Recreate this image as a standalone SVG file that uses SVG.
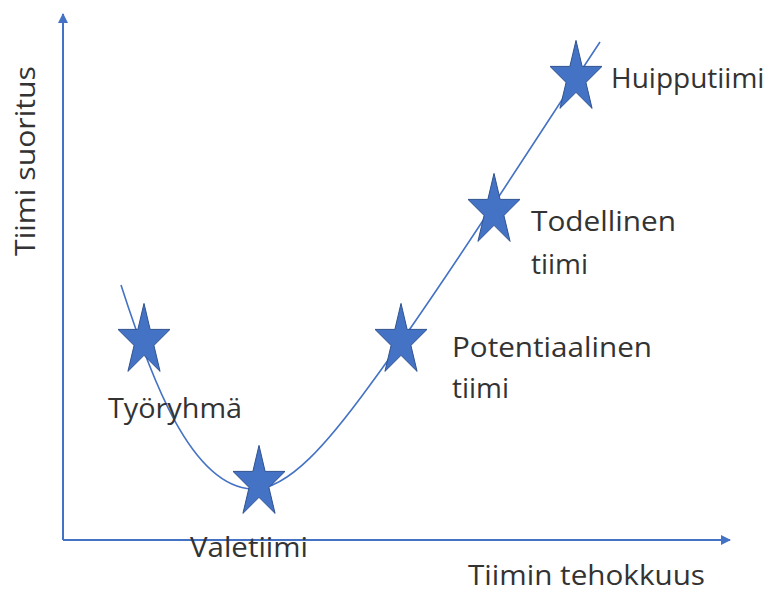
<svg xmlns="http://www.w3.org/2000/svg" width="778" height="594" viewBox="0 0 778 594">
<style>
.ax{stroke:#4472C4;stroke-width:2;fill:none}
.cv{stroke:#4472C4;stroke-width:1.6;fill:none}
.st{fill:#4472C4;stroke:#2F528F;stroke-width:1}
text{font-family:"Open Sans","Noto Sans",sans-serif;font-size:28px;fill:#333}
</style>
<defs>
<marker id="ah" viewBox="0 0 10 10" refX="9" refY="5" markerWidth="5" markerHeight="5" orient="auto-start-reverse" markerUnits="strokeWidth">
<path d="M0,0 L10,5 L0,10 Z" fill="#4472C4"/>
</marker>
<path id="star" d="M0,-37.6 L6.14,-11.6 L26,-11.6 L9.92,4.44 L16.08,30.4 L0,14.36 L-16.08,30.4 L-9.92,4.44 L-26,-11.6 L-6.14,-11.6 Z"/>
</defs>
<g id="axes">
<line class="ax" x1="63" y1="540" x2="63" y2="14" marker-end="url(#ah)"/>
<line class="ax" x1="63" y1="540" x2="730" y2="540" marker-end="url(#ah)"/>
<text x="35" y="256" transform="rotate(-90 35 256)" textLength="190" lengthAdjust="spacingAndGlyphs">Tiimi suoritus</text>
<text x="468" y="585" font-size="27" textLength="237" lengthAdjust="spacingAndGlyphs">Tiimin tehokkuus</text>
</g>
<g id="connectors">
<path class="cv" d="M121,285 C150,375 190,486 252,489 C288,491 330,440 370,385 C440,290 545,125 600,42"/>
</g>
<g id="n-tyoryhma">
<use href="#star" class="st" x="144" y="341"/>
<text x="108" y="418" textLength="134" lengthAdjust="spacingAndGlyphs">Työryhmä</text>
</g>
<g id="n-valetiimi">
<use href="#star" class="st" x="259" y="483"/>
<text x="190" y="557" textLength="118" lengthAdjust="spacingAndGlyphs">Valetiimi</text>
</g>
<g id="n-potentiaalinen">
<use href="#star" class="st" x="401" y="341"/>
<text x="452" y="357" textLength="200" lengthAdjust="spacingAndGlyphs">Potentiaalinen</text>
<text x="452" y="398">tiimi</text>
</g>
<g id="n-todellinen">
<use href="#star" class="st" x="494" y="211"/>
<text x="531" y="231" textLength="145" lengthAdjust="spacingAndGlyphs">Todellinen</text>
<text x="531" y="274">tiimi</text>
</g>
<g id="n-huipputiimi">
<use href="#star" class="st" x="576" y="78"/>
<text x="611" y="88">Huipputiimi</text>
</g>
</svg>
